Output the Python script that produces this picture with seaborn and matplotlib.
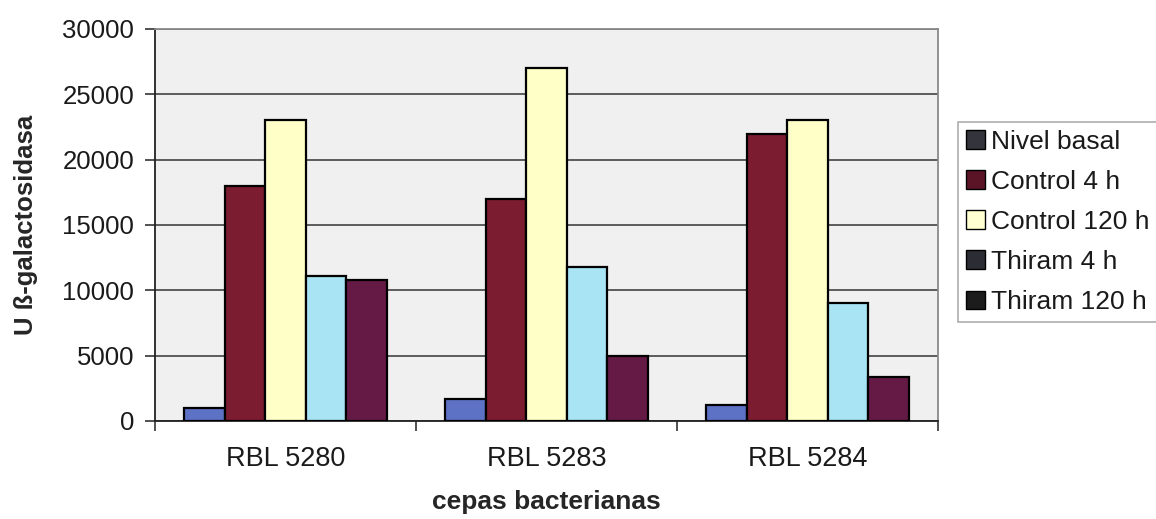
import matplotlib
matplotlib.use("Agg")
import matplotlib.pyplot as plt
from matplotlib.patches import Patch
from matplotlib.ticker import FixedLocator
import pandas as pd
import seaborn as sns

# Strains and treatment series
cepas = ["RBL 5280", "RBL 5283", "RBL 5284"]
series = ["Nivel basal", "Control 4 h", "Control 120 h", "Thiram 4 h", "Thiram 120 h"]
nivel_basal = [1000, 1700, 1200]
control_4h = [18000, 17000, 22000]
control_120h = [23000, 27000, 23000]
thiram_4h = [11100, 11800, 9000]
thiram_120h = [10800, 5000, 3400]

bar_colors = ["#5d72c4", "#7b1c30", "#ffffc8", "#a8e4f4", "#651a45"]
legend_colors = ["#34343c", "#5a1426", "#ffffd2", "#2c2c34", "#1c1c1c"]

rows = []
for name, vals in zip(series, [nivel_basal, control_4h, control_120h, thiram_4h, thiram_120h]):
    for cepa, v in zip(cepas, vals):
        rows.append({"cepa": cepa, "serie": name, "valor": v})
df = pd.DataFrame(rows)

sns.set_theme(style="white")
plt.rcParams["font.family"] = ["Liberation Sans", "DejaVu Sans"]
plt.rcParams["text.color"] = "#1a1a1a"

fig = plt.figure(figsize=(11.56, 5.19), dpi=100)
ax = fig.add_axes([155 / 1156, 1 - 421 / 519, 783 / 1156, 392 / 519])
ax.set_facecolor("#f0f0f0")

sns.barplot(data=df, x="cepa", y="valor", hue="serie", order=cepas, hue_order=series,
            palette=bar_colors, saturation=1, width=0.775, edgecolor="black",
            linewidth=1.6, legend=False, ax=ax, zorder=3)

ax.set_xlim(-0.5, 2.5)
ax.set_ylim(0, 30000)
ax.set_yticks(range(0, 30001, 5000))
ax.yaxis.grid(True, color="#505050", linewidth=1.3, zorder=0)
ax.set_axisbelow(True)

# Tick marks sit between the strain groups
ax.xaxis.set_minor_locator(FixedLocator([-0.5, 0.5, 1.5, 2.5]))
ax.tick_params(axis="x", which="major", length=0, pad=18, labelsize=19.5, labelcolor="#1a1a1a")
ax.tick_params(axis="x", which="minor", bottom=True, length=7, width=1.2, color="#333333", direction="out")
ax.tick_params(axis="y", left=True, length=7, width=1.2, color="#333333", direction="out",
               pad=8, labelsize=18.5, labelcolor="#1a1a1a")

for side in ["left", "bottom"]:
    ax.spines[side].set_color("#222222")
    ax.spines[side].set_linewidth(1.3)
for side in ["top", "right"]:
    ax.spines[side].set_color("#8a8a8a")
    ax.spines[side].set_linewidth(1.3)

ax.set_xlabel("cepas bacterianas", fontsize=19, fontweight="bold", labelpad=13)
ax.set_ylabel("U ß-galactosidasa", fontsize=18.5, fontweight="bold")
ax.yaxis.set_label_coords(-0.149, 0.5)

handles = [Patch(facecolor=c, edgecolor="black", linewidth=1.0) for c in legend_colors]
leg = fig.legend(handles, series, loc="center left", bbox_to_anchor=(958 / 1156, 1 - 222 / 519),
                 fontsize=19, frameon=True, fancybox=False, handlelength=0.72,
                 handleheight=0.72, handletextpad=0.22, labelspacing=0.61,
                 borderpad=0.3, borderaxespad=0)
leg.get_frame().set_edgecolor("#9a9a9a")
leg.get_frame().set_linewidth(1.2)

fig.savefig("out.png", dpi=100, facecolor="white")
